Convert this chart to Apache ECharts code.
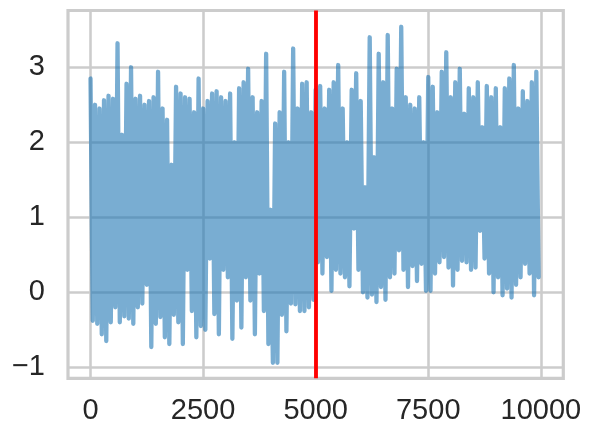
<!DOCTYPE html>
<html><head><meta charset="utf-8">
<script src="https://cdn.jsdelivr.net/npm/echarts@6/dist/echarts.min.js"></script>
<style>html,body{margin:0;padding:0;background:#fff}#c{width:592px;height:440px}</style>
</head><body><div id="c"></div>
<script>
const xTicks = [0, 2500, 5000, 7500, 10000];
const yTicks = [-1, 0, 1, 2, 3];
const sampleStep = 100;
const markerX = 5000;
const xRange = [-499.95, 10498.95];
const yRange = [-1.147, 3.757];

// upper excursions, one per 100 samples
const peakValues = [
  2.85, 2.5, 2.45, 2.56, 2.62, 2.58, 3.32, 2.1, 2.78, 3.0,
  2.58, 2.62, 2.5, 2.55, 2.6, 2.94, 2.45, 2.3, 1.7, 2.74,
  2.65, 2.6, 2.58, 2.4, 2.85,
  2.45, 2.55, 2.65, 2.68, 2.6, 2.55, 2.65, 2.0, 2.72, 2.8,
  2.98, 2.6, 2.4, 2.55, 3.18, 1.1, 2.25, 2.4, 2.94, 2.0,
  3.25, 2.45, 2.78, 2.8, 2.4,
  2.7, 2.75, 2.45, 2.7, 2.8, 3.03, 2.45, 2.0, 2.7, 2.92,
  2.55, 1.4, 3.4, 1.8, 3.18, 2.8, 3.43, 2.45, 2.98, 3.54,
  2.6, 2.5, 2.45, 2.6, 2.0,
  2.87, 2.74, 2.4, 2.94, 3.2, 2.6, 2.8, 2.98, 2.38, 2.72,
  2.6, 2.8, 2.2, 2.75, 2.6, 2.72, 2.2, 2.72, 2.85, 3.03,
  2.45, 2.68, 2.55, 2.8, 2.94
];
// lower excursions, offset by half a step
const troughValues = [
  -0.38, -0.42, -0.56, -0.65, -0.4, -0.2, -0.4, -0.32, -0.35, -0.42,
  -0.2, -0.15, 0.1, -0.73, -0.42, -0.33, -0.6, -0.69, -0.3, -0.4,
  -0.69, 0.3, -0.25, -0.6, -0.45,
  -0.5, 0.45, -0.29, -0.56, 0.3, 0.2, -0.62, -0.11, -0.47, 0.2,
  -0.11, -0.56, 0.25, -0.25, -0.69, -0.94, -0.94, -0.3, -0.52, -0.15,
  -0.16, -0.25, -0.25, -0.2, -0.1,
  0.4, 0.25, 0.47, 0.02, 0.3, 0.25, 0.2, 0.08, 0.85, 0.3,
  0.0, -0.07, -0.03, -0.13, 0.07, -0.1, 0.2, 0.25, 0.56, 0.3,
  0.07, 0.35, 0.15, 0.38, 0.02,
  0.02, 0.25, 0.4, 0.47, 0.33, 0.09, 0.3, 0.42, 0.4, 0.3,
  0.33, 0.82, 0.45, 0.25, 0.0, 0.2, -0.04, 0.05, -0.07, 0.1,
  0.2, 0.38, 0.25, -0.04, 0.2
];

const seriesData = [];
for (let i = 0; i < peakValues.length; i++) {
  seriesData.push([i * sampleStep, peakValues[i]]);
  seriesData.push([i * sampleStep + sampleStep / 2, troughValues[i]]);
}

const plot = { left: 68, top: 10.5, width: 495.3, height: 367.8 };
const fx = v => plot.left + (v - xRange[0]) / (xRange[1] - xRange[0]) * plot.width;
const fy = v => plot.top + (yRange[1] - v) / (yRange[1] - yRange[0]) * plot.height;

const xMin = xTicks[0], xMax = xTicks[xTicks.length - 1];
const yMin = yTicks[0], yMax = yTicks[yTicks.length - 1];

const gridColor = '#cccccc';
const textStyle = { fontSize: 29, color: '#262626', fontFamily: '"Liberation Sans", Arial, sans-serif' };

const chart = echarts.init(document.getElementById('c'), null, { renderer: 'canvas' });
chart.setOption({
  animation: false,
  backgroundColor: '#ffffff',
  grid: [
    { left: plot.left, top: plot.top, width: plot.width, height: plot.height,
      show: true, borderColor: gridColor, borderWidth: 3.2, backgroundColor: 'transparent', containLabel: false },
    { left: fx(xMin), top: plot.top, width: fx(xMax) - fx(xMin), height: plot.height, containLabel: false },
    { left: plot.left, top: fy(yMax), width: plot.width, height: fy(yMin) - fy(yMax), containLabel: false }
  ],
  xAxis: [
    { gridIndex: 0, type: 'value', min: xRange[0], max: xRange[1], show: false },
    { gridIndex: 1, type: 'value', min: xMin, max: xMax, interval: xTicks[1] - xTicks[0],
      axisLine: { show: false, onZero: false }, axisTick: { show: false },
      splitLine: { show: true, lineStyle: { color: gridColor, width: 2.57 } },
      axisLabel: Object.assign({ margin: 18, formatter: v => String(v) }, textStyle) },
    { gridIndex: 2, type: 'value', min: 0, max: 1, show: false, axisLine: { onZero: false } }
  ],
  yAxis: [
    { gridIndex: 0, type: 'value', min: yRange[0], max: yRange[1], show: false },
    { gridIndex: 1, type: 'value', min: 0, max: 1, show: false, axisLine: { onZero: false } },
    { gridIndex: 2, type: 'value', min: yMin, max: yMax, interval: yTicks[1] - yTicks[0],
      axisLine: { show: false, onZero: false }, axisTick: { show: false },
      splitLine: { show: true, lineStyle: { color: gridColor, width: 2.57 } },
      axisLabel: Object.assign({ margin: 23, formatter: v => String(v).replace('-', '\u2212') }, textStyle) }
  ],
  series: [{
    type: 'line',
    xAxisIndex: 0, yAxisIndex: 0,
    data: seriesData,
    showSymbol: false, symbol: 'none',
    sampling: null,
    lineStyle: { color: '#1f77b4', opacity: 0.6, width: 4.3, cap: 'round', join: 'round' },
    emphasis: { disabled: true },
    z: 2,
    markLine: {
      silent: true, animation: false,
      symbol: ['none', 'none'],
      label: { show: false },
      lineStyle: { color: '#ff0000', width: 3.85, type: 'solid', opacity: 1 },
      emphasis: { disabled: true },
      data: [{ xAxis: markerX }]
    }
  }]
});
</script></body></html>
